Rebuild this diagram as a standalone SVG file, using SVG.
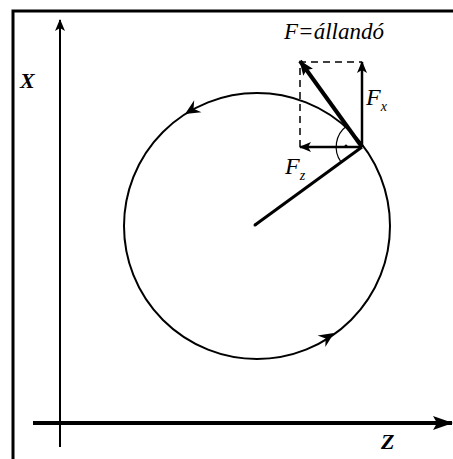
<svg xmlns="http://www.w3.org/2000/svg" width="453" height="459" viewBox="0 0 453 459">
<style>
.ln{stroke:#000;fill:none}
.lbl{font-family:"Liberation Serif","DejaVu Serif",serif;font-style:italic;fill:#000}
</style>
<defs>
<marker id="ah" viewBox="0 0 12 10" refX="11" refY="5" markerWidth="12" markerHeight="10" markerUnits="userSpaceOnUse" orient="auto">
<path d="M0,0 L12,5 L0,10 L3,5 Z" fill="#000"/>
</marker>
<marker id="ahMid" viewBox="0 0 15 12" refX="14" refY="6" markerWidth="15" markerHeight="12" markerUnits="userSpaceOnUse" orient="auto">
<path d="M0,0 L15,6 L0,12 L3,6 Z" fill="#000"/>
</marker>
<marker id="ahBig" viewBox="0 0 20 14" refX="19" refY="7" markerWidth="20" markerHeight="14" markerUnits="userSpaceOnUse" orient="auto">
<path d="M0,0 L20,7 L0,14 L4,7 Z" fill="#000"/>
</marker>
<path id="cah" d="M0,0 L-15,-7 L-10,0 L-15,7 Z" fill="#000"/>
</defs>
<rect width="453" height="459" fill="#fff"/>
<g id="frame">
<path class="ln" d="M13,459 V11 H453" stroke-width="3"/>
</g>
<g id="connectors">
<line id="x-axis" class="ln" x1="60" y1="447" x2="60" y2="20" stroke-width="2" marker-end="url(#ah)"/>
<line id="z-axis" class="ln" x1="33" y1="423" x2="452" y2="423" stroke-width="4" marker-end="url(#ahBig)"/>
<circle id="orbit" class="ln" cx="257" cy="226" r="133" stroke-width="2"/>
<line id="radius" class="ln" x1="255" y1="225" x2="362" y2="147" stroke-width="3"/>
<path id="dashed" class="ln" d="M300,147 V62 H362" stroke-width="1.5" stroke-dasharray="7,5"/>
<line id="fx" class="ln" x1="362" y1="147" x2="362" y2="62" stroke-width="2.5" marker-end="url(#ah)"/>
<line id="fz" class="ln" x1="362" y1="147" x2="300" y2="147" stroke-width="2.5" marker-end="url(#ah)"/>
<line id="fres" class="ln" x1="362" y1="147" x2="300" y2="61" stroke-width="4" marker-end="url(#ahMid)"/>
<path id="angle" class="ln" d="M346.7,126 A26,26 0 0 0 341,162" stroke-width="1.2"/>
<circle cx="346" cy="146" r="1.5" fill="#000"/>
<circle cx="255" cy="225" r="1.5" fill="#000"/>
<use href="#cah" transform="translate(185,114) rotate(148.8)"/>
<use href="#cah" transform="translate(334,333) rotate(-33.3)"/>
</g>
<g id="labels">
<text class="lbl" x="334" y="39" font-size="23" text-anchor="middle">F=állandó</text>
<text class="lbl" x="366" y="105" font-size="24">F<tspan font-size="14" dy="6">x</tspan></text>
<text class="lbl" x="285" y="174" font-size="24">F<tspan font-size="14" dy="6">z</tspan></text>
<text class="lbl" x="20" y="88" font-size="22" font-weight="bold">X</text>
<text class="lbl" x="381" y="449" font-size="22" font-weight="bold">Z</text>
</g>
</svg>
